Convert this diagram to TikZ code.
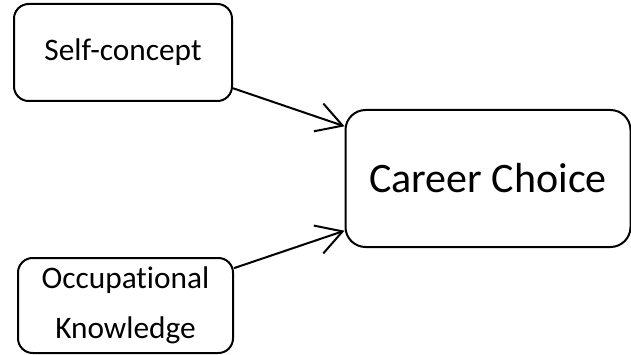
\documentclass[tikz,border=0pt]{standalone}
\usepackage{fontspec}
\setmainfont{Carlito}[Ligatures=NoCommon]
\usepackage{tikz}
\usetikzlibrary{arrows.meta}

\tikzset{
  factor/.style={draw,line width=1.5pt,rounded corners=11pt,align=center,
    font=\fontsize{23.5}{37.5}\selectfont},
  link/.style={line width=1.5pt,-{Straight Barb[length=19pt,width=22pt,line width=1.5pt]}}
}

\begin{document}
\begin{tikzpicture}[x=0.75pt,y=0.75pt]
    \useasboundingbox (0,0) rectangle (631,354);

    % Two factors (left)
    \node[factor,minimum width=163.5pt,minimum height=72.75pt] (self) at (123,301.5) {Self-concept};
    \node[factor,minimum width=161.25pt,minimum height=71.25pt] (occup) at (125.5,48.5) {Occupational\\Knowledge};

    % Outcome (right)
    \node[factor,minimum width=213.75pt,minimum height=102.75pt,rounded corners=15pt,
      font=\fontsize{31.5}{38}\selectfont] (career) at (488,175.5) {Career Choice};

    \draw[link] (self.-18.5) -- (career.160.2);
    \draw[link] (occup.19.2) -- (career.200.2);
\end{tikzpicture}
\end{document}
